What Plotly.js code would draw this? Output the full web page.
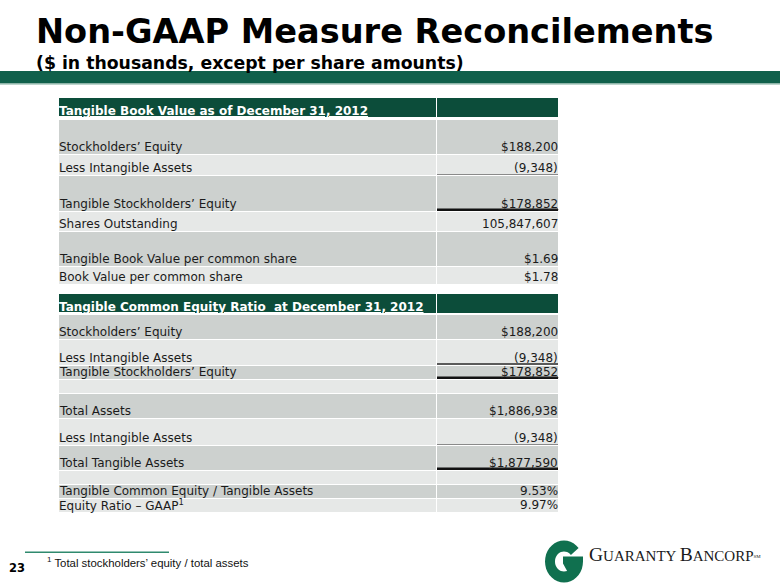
<!DOCTYPE html>
<html>
<head>
<meta charset="utf-8">
<script src="https://cdn.plot.ly/plotly-3.0.1.min.js"></script>
<style>
  html, body { margin: 0; padding: 0; background: #fff; }
  #slide { width: 780px; height: 585px; }
</style>
</head>
<body>
<div id="slide"></div>
<script>
// ---- table data ----
var bookTitle = "Tangible Book Value as of December 31, 2012"
var bookLabels = ["Stockholders’ Equity", "Less Intangible Assets", "Tangible Stockholders’ Equity",
  "Shares Outstanding", "Tangible Book Value per common share", "Book Value per common share"]
var bookValues = ["$188,200", "(9,348)", "$178,852", "105,847,607", "$1.69", "$1.78"]

var ratioTitle = "Tangible Common Equity Ratio \u00a0at December 31, 2012"
var ratioLabels = ["Stockholders’ Equity", "Less Intangible Assets", "Tangible Stockholders’ Equity", "",
  "Total Assets", "Less Intangible Assets", "Total Tangible Assets", "",
  "Tangible Common Equity / Tangible Assets", "Equity Ratio – GAAP<sup>1</sup>"]
var ratioValues = ["$188,200", "(9,348)", "$178,852", "", "$1,886,938", "(9,348)", "$1,877,590", "", "9.53%", "9.97%"]

// ---- slide layout (pixels, y from the top) ----
var labelLeft = 59, labelRight = 435.5, valueLeft = 437, valueRight = 558
var bookHeaderTop = 98, bookHeaderHeight = 19, bookTop = 119
var bookRowHeights = [35, 21, 36, 20, 35, 18]
var bookRules = ["", "thin", "thick", "", "", ""]
var ratioHeaderTop = 293.5, ratioHeaderHeight = 19.5, ratioTop = 314
var ratioRowHeights = [25.5, 25.5, 14, 14.5, 25, 26.5, 25, 14, 14.3, 14]
var ratioRules = ["", "mid", "thick", "", "", "thin", "thick", "", "", ""]
var underlined = {book: [2], ratio: [2, 6]}

var gray = "#cdd1cf", light = "#e6e8e7", headerGreen = "#0c4d3a", bandGreen = "#10604b"
var textFont = "DejaVu Sans, Verdana, sans-serif"
var ruleStyle = {thin: {color: "#8a8a8a", width: 1}, mid: {color: "#5a5a5a", width: 2},
  thick: {color: "#111111", width: 2.5}}

var cellY = [], cellH = [], cellColor = []
var annotations = []
var shapes = []

// baseline -> centre of the text box (DejaVu ascent .928 / descent .236)
function textAt(x, baseline, text, size, anchor, bold, color, family) {
  annotations.push({
    x: x, y: baseline - 0.346 * size, xref: "x", yref: "y", xanchor: anchor, yanchor: "middle",
    text: bold ? "<b>" + text + "</b>" : text, showarrow: false, borderpad: 0,
    font: {family: family || textFont, size: size, color: color || "#1b1b1b"}
  })
}

function addTable(title, headerTop, headerHeight, top, heights, labels, values, rules, under) {
  cellY.push(headerTop + headerHeight / 2); cellH.push(headerHeight); cellColor.push(headerGreen)
  textAt(labelLeft - 1.5, headerTop + headerHeight - 2, "<u>" + title + "</u>", 12, "left", true, "#ffffff")
  var pos = top
  for (var i = 0; i < heights.length; i++) {
    var bottom = pos + heights[i]
    cellY.push(pos + heights[i] / 2)
    cellH.push(heights[i] - 1)
    cellColor.push(i % 2 == 0 ? gray : light)
    if (labels[i]) textAt(labelLeft - 1.5, bottom - 3, labels[i], 12, "left")
    if (values[i]) {
      var v = under.indexOf(i) >= 0 ? "<u>" + values[i] + "</u>" : values[i]
      textAt(valueRight + 1, bottom - 3, v, 12, "right")
    }
    if (rules[i]) {
      var r = ruleStyle[rules[i]]
      shapes.push({type: "line", xref: "x", yref: "y", x0: valueLeft, x1: valueRight,
        y0: bottom - r.width / 2, y1: bottom - r.width / 2, line: {color: r.color, width: r.width}})
    }
    pos = bottom
  }
}

addTable(bookTitle, bookHeaderTop, bookHeaderHeight, bookTop, bookRowHeights, bookLabels, bookValues, bookRules, underlined.book)
addTable(ratioTitle, ratioHeaderTop, ratioHeaderHeight, ratioTop, ratioRowHeights, ratioLabels, ratioValues, ratioRules, underlined.ratio)

var labelCells = {
  type: "bar", orientation: "h", y: cellY, width: cellH, base: labelLeft,
  x: cellY.map(function () { return labelRight - labelLeft }),
  marker: {color: cellColor, line: {width: 0}}, hoverinfo: "skip", showlegend: false
}
var valueCells = {
  type: "bar", orientation: "h", y: cellY, width: cellH, base: valueLeft,
  x: cellY.map(function () { return valueRight - valueLeft }),
  marker: {color: cellColor, line: {width: 0}}, hoverinfo: "skip", showlegend: false
}

// ---- titles, band, footer ----
textAt(35, 43.5, "Non-GAAP Measure Reconcilements", 33.6, "left", true, "#000000")
textAt(35, 68.5, "($ in thousands, except per share amounts)", 17.3, "left", true, "#000000")
shapes.push({type: "rect", xref: "x", yref: "y", x0: 0, x1: 780, y0: 71, y1: 83.5,
  fillcolor: bandGreen, line: {width: 0}, layer: "below"})
shapes.push({type: "line", xref: "x", yref: "y", x0: 0, x1: 780, y0: 84.2, y1: 84.2,
  line: {color: "#9fc2b5", width: 1}})

shapes.push({type: "line", xref: "x", yref: "y", x0: 25, x1: 169, y0: 552.3, y1: 552.3,
  line: {color: "#2f8a6e", width: 1.5}})
textAt(8, 571.7, "23", 11.5, "left", true, "#000000")
textAt(46, 566, "<sup>1</sup> Total stockholders’ equity / total assets", 11.4, "left", false, "#111111",
  "Liberation Sans Narrow, Liberation Sans, Arial, sans-serif")

// logo: G mark built from points on two ellipses
function gMark(cx, cy, rx, ry, irx, iry) {
  var pts = [], a
  for (a = -40; a >= -360; a -= 10) pts.push([cx + rx * Math.cos(a * Math.PI / 180), cy + ry * Math.sin(a * Math.PI / 180)])
  pts.push([cx + rx, cy - 5], [cx - 1, cy - 5], [cx - 1, cy + 2])
  for (a = 70; a <= 320; a += 10) pts.push([cx + irx * Math.cos(a * Math.PI / 180), cy + iry * Math.sin(a * Math.PI / 180)])
  return "M" + pts.map(function (p) { return p[0].toFixed(1) + "," + p[1].toFixed(1) }).join("L") + "Z"
}
shapes.push({type: "path", xref: "x", yref: "y", path: gMark(564, 561.5, 19, 21, 9, 10),
  fillcolor: "#10704f", line: {width: 0}})
textAt(588, 561.7, "G<span style='font-size:15px'>UARANTY </span>B<span style='font-size:15px'>ANCORP</span><span style='font-size:7px'><sup>SM</sup></span>",
  19.5, "left", false, "#1a1a1a", "Liberation Serif, Times New Roman, serif")

var layout = {
  width: 780, height: 585,
  margin: {l: 0, r: 0, t: 0, b: 0},
  paper_bgcolor: "#ffffff", plot_bgcolor: "#ffffff",
  barmode: "overlay", bargap: 0,
  xaxis: {range: [0, 780], visible: false, fixedrange: true},
  yaxis: {range: [585, 0], visible: false, fixedrange: true},
  shapes: shapes,
  annotations: annotations
}

Plotly.newPlot("slide", [labelCells, valueCells], layout, {displayModeBar: false, staticPlot: true})
</script>
</body>
</html>
